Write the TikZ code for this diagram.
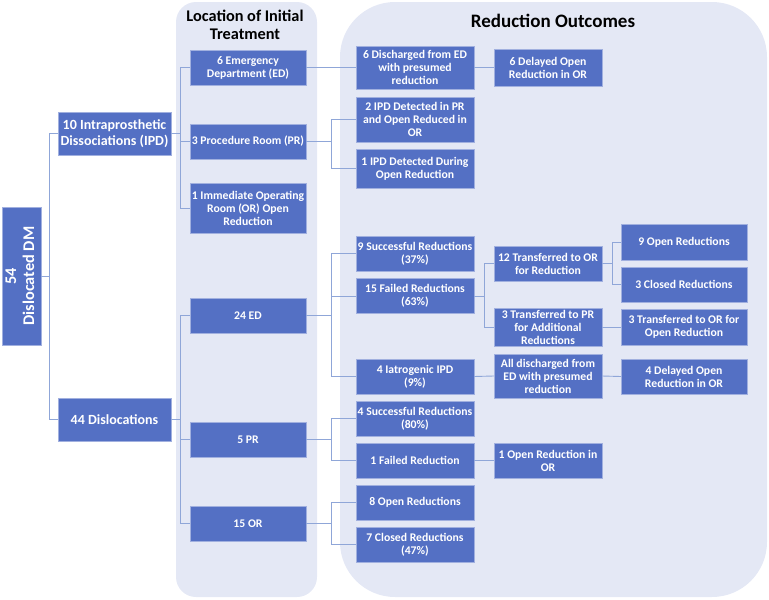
\documentclass[tikz,border=0pt]{standalone}
\usepackage{fontspec}
\setmainfont{Carlito}
\definecolor{boxblue}{RGB}{84,112,196}
\definecolor{panelc}{RGB}{228,232,245}
\definecolor{connc}{RGB}{143,166,216}
\begin{document}
\begin{tikzpicture}[x=1pt,y=-1pt,
  box/.style={fill=boxblue, draw=boxblue!55!white, line width=0.6pt, text=white,
    font=\bfseries\fontsize{11.7}{13}\selectfont, align=center, inner sep=1pt, outer sep=0pt},
  colA/.style={box, minimum width=113, minimum height=43, font=\bfseries\fontsize{14}{15.5}\selectfont},
  colB/.style={box, minimum width=116, minimum height=35},
  colC/.style={box, minimum width=118, minimum height=35},
  colD/.style={box, minimum width=108, minimum height=35},
  colE/.style={box, minimum width=126, minimum height=35},
  conn/.style={draw=connc, line width=0.9pt},
  paneltitle/.style={font=\bfseries\fontsize{16.3}{18.5}\selectfont, align=center, text=black, inner sep=0pt}]
\useasboundingbox (0,0) rectangle (769,600);
% panels
\fill[panelc, rounded corners=20pt] (176,2) rectangle (317,597);
\fill[panelc, rounded corners=55pt] (340,2) rectangle (767,597);
\node[paneltitle] (t1) at (245,25) {Location of Initial\\Treatment};
\node[paneltitle, font=\bfseries\fontsize{19}{21}\selectfont] (t2) at (553,21) {Reduction Outcomes};
% nodes
\node[box, minimum width=39, minimum height=138, font=\bfseries\fontsize{16.3}{18}\selectfont] (root) at (21.5,276)
  {\rotatebox{90}{\begin{tabular}{@{}c@{}}54\\Dislocated DM\end{tabular}}};
\node[colA] (ipd) at (114.5,133.5) {10 Intraprosthetic\\Dissociations (IPD)};
\node[colA] (disl) at (114.5,419.5) {44 Dislocations};
\node[colB] (edi) at (248,67.5) {6 Emergency\\Department (ED)};
\node[colB] (pri) at (248,141.5) {3 Procedure Room (PR)};
\node[colB, minimum height=50] (ori) at (248,208) {1 Immediate Operating\\Room (OR) Open\\Reduction};
\node[colB] (ed) at (248,315.5) {24 ED};
\node[colB] (pr) at (248,439.5) {5 PR};
\node[colB] (or) at (248,523.5) {15 OR};
\node[colC, minimum height=43] (dis) at (415,67.5) {6 Discharged from ED\\with presumed\\reduction};
\node[colC, minimum height=45] (det) at (415,119.5) {2 IPD Detected in PR\\and Open Reduced in\\OR};
\node[colC, minimum height=39] (dur) at (415,168.5) {1 IPD Detected During\\Open Reduction};
\node[colC] (succ9) at (415,253.5) {9 Successful Reductions\\(37\%)};
\node[colC] (fail15) at (415,296) {15 Failed Reductions\\(63\%)};
\node[colC] (iat) at (415,376.5) {4 Iatrogenic IPD\\(9\%)};
\node[colC] (succ4) at (415,418.5) {4 Successful Reductions\\(80\%)};
\node[colC] (fail1) at (415,460.5) {1 Failed Reduction};
\node[colC] (open8) at (415,502.5) {8 Open Reductions};
\node[colC] (closed7) at (415,544.5) {7 Closed Reductions\\(47\%)};
\node[colD, minimum height=37] (del6) at (548,67.5) {6 Delayed Open\\Reduction in OR};
\node[colD] (tor12) at (548,263.5) {12 Transferred to OR\\for Reduction};
\node[colD, minimum height=38] (tpr3) at (548,327) {3 Transferred to PR\\for Additional\\Reductions};
\node[colD, minimum height=44] (alld) at (548,376) {All discharged from\\ED with presumed\\reduction};
\node[colD] (open1) at (548,460.5) {1 Open Reduction in\\OR};
\node[colE, minimum height=36] (open9) at (684,242) {9 Open Reductions};
\node[colE] (closed3) at (684,284.5) {3 Closed Reductions};
\node[colE, minimum height=36] (tor3) at (684,327) {3 Transferred to OR for\\Open Reduction};
\node[colE] (del4) at (684,376.5) {4 Delayed Open\\Reduction in OR};
% connectors
\draw[conn] (root.east) -- ++(8,0) coordinate (j0);
\draw[conn] (j0) |- (ipd.west);
\draw[conn] (j0) |- (disl.west);
\draw[conn] (ipd.east) -- ++(9,0) coordinate (j1);
\draw[conn] (j1) |- (edi.west);
\draw[conn] (j1) |- (pri.west);
\draw[conn] (j1) |- (ori.west);
\draw[conn] (disl.east) -- ++(9,0) coordinate (j2);
\draw[conn] (j2) |- (ed.west);
\draw[conn] (j2) |- (pr.west);
\draw[conn] (j2) |- (or.west);
\draw[conn] (edi.east) -- (dis.west);
\draw[conn] (dis.east) -- (del6.west);
\draw[conn] (pri.east) -- ++(25,0) coordinate (j3);
\draw[conn] (j3) |- (det.west);
\draw[conn] (j3) |- (dur.west);
\draw[conn] (ed.east) -- ++(25,0) coordinate (j4);
\draw[conn] (j4) |- (succ9.west);
\draw[conn] (j4) |- (fail15.west);
\draw[conn] (j4) |- (iat.west);
\draw[conn] (pr.east) -- ++(25,0) coordinate (j5);
\draw[conn] (j5) |- (succ4.west);
\draw[conn] (j5) |- (fail1.west);
\draw[conn] (or.east) -- ++(25,0) coordinate (j6);
\draw[conn] (j6) |- (open8.west);
\draw[conn] (j6) |- (closed7.west);
\draw[conn] (fail15.east) -- ++(10,0) coordinate (j7);
\draw[conn] (j7) |- (tor12.west);
\draw[conn] (j7) |- (tpr3.west);
\draw[conn] (tor12.east) -- ++(10,0) coordinate (j8);
\draw[conn] (j8) |- (open9.west);
\draw[conn] (j8) |- (closed3.west);
\draw[conn] (tpr3.east) -- (tor3.west);
\draw[conn] (iat.east) -- (alld.west);
\draw[conn] (alld.east) -- (del4.west);
\draw[conn] (fail1.east) -- (open1.west);
\end{tikzpicture}
\end{document}
